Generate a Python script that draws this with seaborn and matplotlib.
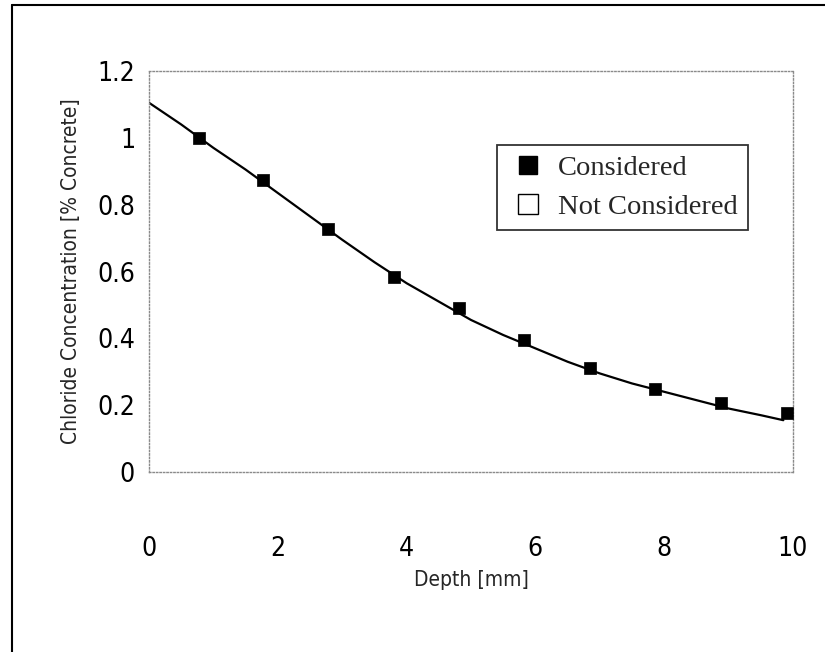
import matplotlib
matplotlib.use("Agg")
import matplotlib.pyplot as plt
from matplotlib.lines import Line2D
import seaborn as sns
import pandas as pd

# Measured data (Considered)
depth = [0.77, 1.77, 2.78, 3.80, 4.81, 5.83, 6.85, 7.86, 8.88, 9.90]
chloride = [1.00, 0.874, 0.728, 0.584, 0.491, 0.395, 0.311, 0.249, 0.207, 0.177]

# Fitted curve
fit_depth = [0.0, 0.5, 1.0, 1.5, 2.0, 2.5, 3.0, 3.5, 4.0, 4.5, 5.0, 5.5, 6.0,
             6.5, 7.0, 7.5, 8.0, 8.5, 9.0, 9.5, 9.85]
fit_chloride = [1.105, 1.04, 0.97, 0.905, 0.835, 0.765, 0.695, 0.628, 0.565,
                0.51, 0.455, 0.41, 0.37, 0.33, 0.295, 0.265, 0.24, 0.215,
                0.19, 0.17, 0.155]

x_ticks = [0, 2, 4, 6, 8, 10]
y_ticks = [0, 0.2, 0.4, 0.6, 0.8, 1.0, 1.2]
y_tick_labels = ["0", "0.2", "0.4", "0.6", "0.8", "1", "1.2"]
legend_labels = ["Considered", "Not Considered"]

sns.set_style("white")
plt.rcParams['font.family'] = ['DejaVu Sans']
plt.rcParams['font.stretch'] = 'condensed'

fig = plt.figure(figsize=(8.25, 6.52), dpi=100)
ax = fig.add_axes([149/825, 1 - 472/652, 644/825, 401/652])

pts = pd.DataFrame({"Depth": depth, "Chloride": chloride})
fit = pd.DataFrame({"Depth": fit_depth, "Chloride": fit_chloride})

sns.lineplot(data=fit, x="Depth", y="Chloride", ax=ax, color="black",
             linewidth=1.6, sort=True, zorder=2)
sns.scatterplot(data=pts, x="Depth", y="Chloride", ax=ax, marker="s",
                color="black", s=75, edgecolor="black", linewidth=0.5, zorder=3)

ax.set_xlim(0, 10)
ax.set_ylim(0, 1.2)
ax.set_xticks(x_ticks)
ax.set_xticks(range(0, 11), minor=True)
ax.set_yticks(y_ticks)
ax.set_yticklabels(y_tick_labels)
ax.set_yticks([0.1 * i for i in range(13)], minor=True)

for sp in ax.spines.values():
    sp.set_visible(True)
    sp.set_linestyle((0, (1, 1.5)))
    sp.set_color("#8a8a8a")
    sp.set_linewidth(1.0)

ax.tick_params(axis="both", which="both", direction="inout", color="#8a8a8a",
               width=0.8, labelcolor="black")
ax.tick_params(axis="x", which="major", length=8, pad=42, labelsize=19)
ax.tick_params(axis="x", which="minor", length=6)
ax.tick_params(axis="y", which="major", length=8, pad=6, labelsize=19)
ax.tick_params(axis="y", which="minor", length=5)

ax.set_xlabel("Depth [mm]", fontsize=15, labelpad=6)
ax.set_ylabel("Chloride Concentration [% Concrete]", fontsize=15, labelpad=12)

handles = [
    Line2D([], [], marker="s", linestyle="none", markerfacecolor="black",
           markeredgecolor="black", markersize=13),
    Line2D([], [], marker="s", linestyle="none", markerfacecolor="white",
           markeredgecolor="black", markersize=14, markeredgewidth=1.0),
]
leg = ax.legend(handles, legend_labels, loc="upper left",
                bbox_to_anchor=((497 - 149) / 644, (472 - 145) / 401),
                frameon=True, fancybox=False, edgecolor="black",
                prop={"family": "Liberation Serif", "size": 20.5, "stretch": "normal"},
                labelspacing=0.45, handletextpad=0.3, borderpad=0.35,
                handlelength=1.5, borderaxespad=0)
leg.get_frame().set_linewidth(1.3)

# Outer scanned frame (left and top edges)
fig.add_artist(Line2D([12/825, 12/825], [0, 1 - 5/652], color="black", linewidth=1.5))
fig.add_artist(Line2D([12/825, 1], [1 - 5/652, 1 - 5/652], color="black", linewidth=1.5))

fig.savefig("out.png", dpi=100)
